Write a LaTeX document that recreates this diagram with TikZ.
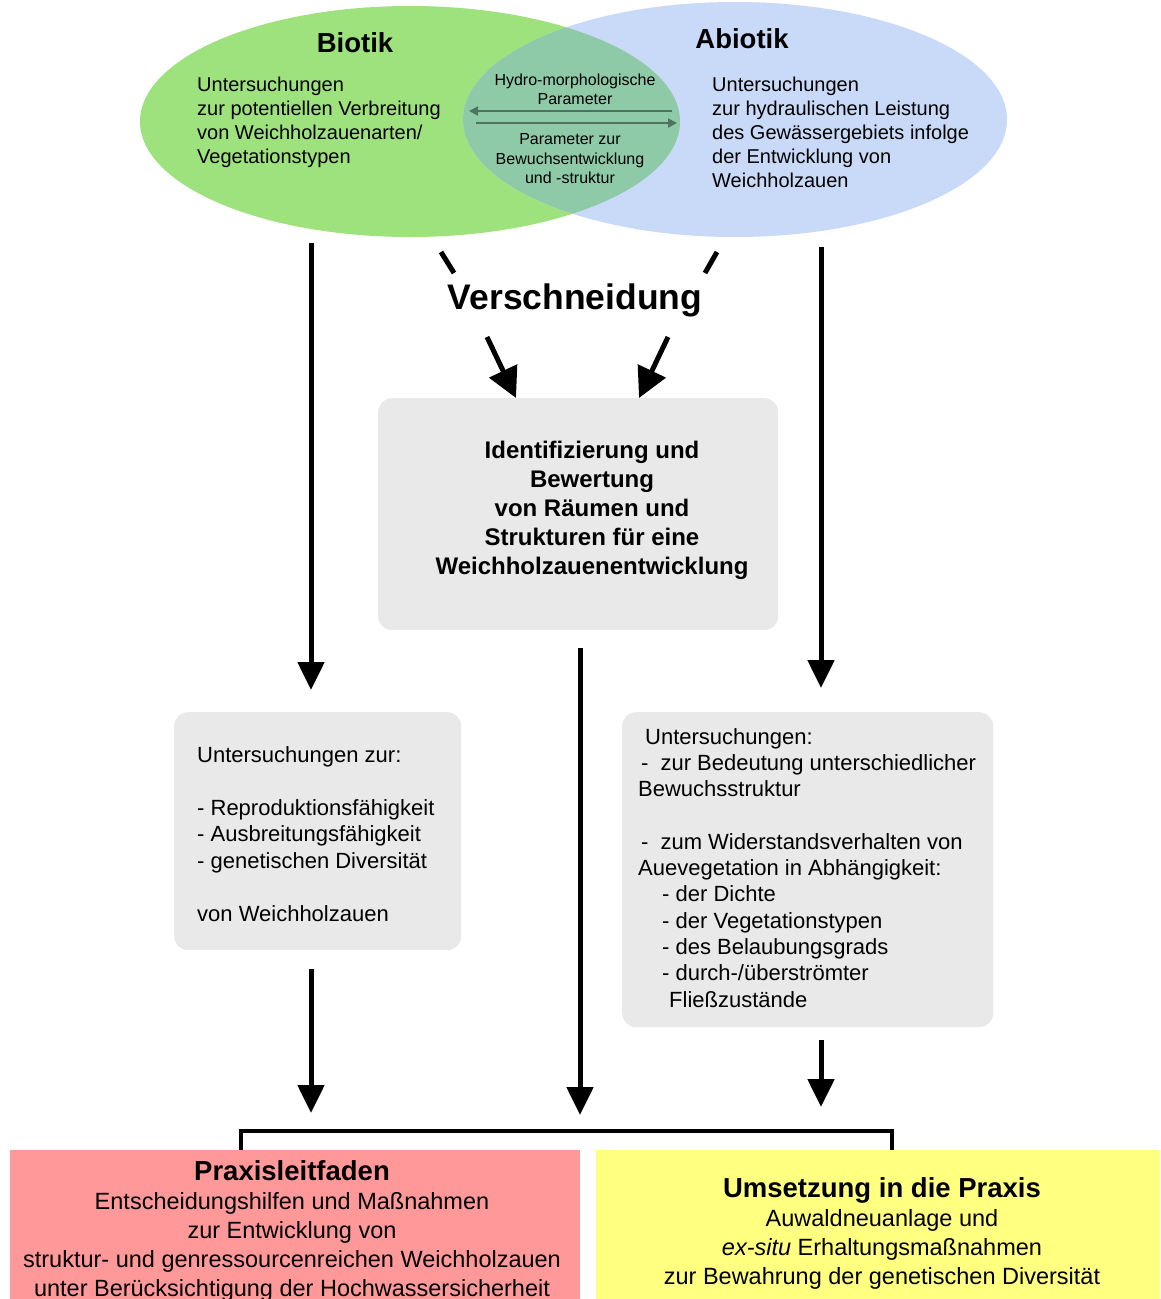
\documentclass[tikz,border=0pt]{standalone}
\usepackage{fontspec}
\setmainfont{Liberation Sans}
\usetikzlibrary{arrows.meta,shapes.geometric}
\definecolor{bgreen}{RGB}{158,226,126}
\definecolor{bblue}{RGB}{201,218,248}
\definecolor{blens}{RGB}{143,202,168}
\definecolor{lensarrow}{RGB}{78,115,96}
\definecolor{boxgrey}{RGB}{233,233,233}
\definecolor{bred}{RGB}{255,153,153}
\definecolor{byellow}{RGB}{255,255,128}
\tikzset{
  bigarrow/.style={line width=5pt,-{Triangle[width=26pt,length=28pt]}},
  diagarrow/.style={line width=5pt,-{Triangle[width=30pt,length=30pt]}},
  lensarr/.style={draw=lensarrow,line width=2pt,-{Triangle[width=9pt,length=9pt]}},
  greybox/.style={fill=boxgrey,rounded corners=14pt,draw=none,anchor=north west,inner sep=0pt},
  txt/.style={inner sep=0pt,text=black},
}
\begin{document}
\begin{tikzpicture}[x=1pt,y=-1pt]
\useasboundingbox (0,0) rectangle (1160,1299);
\fill[white] (0,0) rectangle (1160,1299);
% ellipses
\node[ellipse,fill=bgreen,minimum width=540pt,minimum height=231pt,inner sep=0pt] (green) at (410,121.5) {};
\node[ellipse,fill=bblue,minimum width=544pt,minimum height=235pt,inner sep=0pt] (blue) at (735,119.5) {};
\begin{scope}
  \clip (410,121.5) ellipse [x radius=270,y radius=115.5];
  \fill[blens] (735,119.5) ellipse [x radius=272,y radius=117.5];
\end{scope}
% texts in ellipses
\node[txt,font=\bfseries\fontsize{27.5}{30}\selectfont] (biotik) at (355,43) {Biotik};
\node[txt,font=\bfseries\fontsize{27.5}{30}\selectfont] (abiotik) at (742,39) {Abiotik};
\node[txt,anchor=north west,align=left,font=\fontsize{20}{24}\selectfont] (btext) at (197,77)
  {Untersuchungen\\zur potentiellen Verbreitung\\von Weichholzauenarten/\\Vegetationstypen};
\node[txt,anchor=north west,align=left,font=\fontsize{20}{24}\selectfont] (atext) at (712,77)
  {Untersuchungen\\zur hydraulischen Leistung\\des Gewässergebiets infolge\\der Entwicklung von\\Weichholzauen};
\node[txt,anchor=north,align=center,font=\fontsize{16}{19}\selectfont] (lens1) at (575,74)
  {Hydro-morphologische\\Parameter};
\node[txt,anchor=north,align=center,font=\fontsize{16}{19.5}\selectfont] (lens2) at (570,133.5)
  {Parameter zur\\Bewuchsentwicklung\\und -struktur};
\coordinate (la1) at (672,111);
\coordinate (la2) at (469,111);
\coordinate (lb1) at (476,123);
\coordinate (lb2) at (677,123);
\draw[lensarr] (la1) -- (la2);
\draw[lensarr] (lb1) -- (lb2);
% Verschneidung
\node[txt,font=\bfseries\fontsize{35.5}{40}\selectfont] (versch) at (575,300) {Verschneidung};
\coordinate (d1a) at (441,252); \coordinate (d1b) at (454,273);
\coordinate (d2a) at (717,252); \coordinate (d2b) at (705,273);
\draw[line width=5pt] (d1a) -- (d1b);
\draw[line width=5pt] (d2a) -- (d2b);
% middle box
\node[greybox,minimum width=400pt,minimum height=232pt] (mid) at (378,398) {};
\node[txt,anchor=north,align=center,font=\bfseries\fontsize{24}{29}\selectfont] (midtext) at (592,441)
  {Identifizierung und\\Bewertung\\von Räumen und\\Strukturen für eine\\Weichholzauenentwicklung};
\coordinate (v1) at (487,337);
\coordinate (v2) at (668,337);
\draw[diagarrow] (v1) -- (mid.north west -| 516,0 |- 0,387);
\draw[diagarrow] (v2) -- (mid.north west -| 639,0 |- 0,387);
% left and right boxes
\node[greybox,minimum width=287pt,minimum height=238pt] (lbox) at (174,712) {};
\node[txt,anchor=north west,align=left,font=\fontsize{22}{26.5}\selectfont] (ltext) at (197,746)
  {Untersuchungen zur:\\\mbox{}\\- Reproduktionsfähigkeit\\- Ausbreitungsfähigkeit\\- genetischen Diversität\\\mbox{}\\von Weichholzauen};
\node[greybox,minimum width=371pt,minimum height=315pt] (rbox) at (622,712) {};
\node[txt,anchor=north west,align=left,font=\fontsize{22}{26.3}\selectfont] (rtext) at (638,728)
  {\hspace*{7pt}Untersuchungen:\\
   \hspace*{3pt}-\hspace*{12pt}zur Bedeutung unterschiedlicher\\
   Bewuchsstruktur\\
   \mbox{}\\
   \hspace*{3pt}-\hspace*{12pt}zum Widerstandsverhalten von\\
   Auevegetation in Abhängigkeit:\\
   \hspace*{24pt}- der Dichte\\
   \hspace*{24pt}- der Vegetationstypen\\
   \hspace*{24pt}- des Belaubungsgrads\\
   \hspace*{24pt}- durch-/überströmter\\
   \hspace*{31pt}Fließzustände};
% long arrows
\coordinate (g1) at (311,243); \coordinate (g2) at (311,690);
\coordinate (b1) at (821,247); \coordinate (b2) at (821,688);
\coordinate (m1) at (580,648); \coordinate (m2) at (580,1115);
\coordinate (l1) at (311,969); \coordinate (l2) at (311,1113);
\coordinate (r1) at (821,1040); \coordinate (r2) at (821,1107);
\draw[bigarrow] (g1) -- (g2);
\draw[bigarrow] (b1) -- (b2);
\draw[bigarrow] (m1) -- (m2);
\draw[bigarrow] (l1) -- (l2);
\draw[bigarrow] (r1) -- (r2);
% bottom boxes
\node[fill=bred,anchor=north west,inner sep=0pt,minimum width=570pt,minimum height=150pt] (red) at (10,1150) {};
\node[fill=byellow,anchor=north west,inner sep=0pt,minimum width=564pt,minimum height=150pt] (yellow) at (596,1150) {};
\draw[line width=4pt] (red.north -| 241,0) -- (241,1131) -- (892,1131) -- (yellow.north -| 892,0);
\node[txt,anchor=north,align=center,font=\fontsize{23.5}{29}\selectfont] (redtext) at (292,1160)
  {{\bfseries\fontsize{27.5}{29}\selectfont Praxisleitfaden}\\
   Entscheidungshilfen und Maßnahmen\\
   zur Entwicklung von\\
   struktur- und genressourcenreichen Weichholzauen\\
   unter Berücksichtigung der Hochwassersicherheit};
\node[txt,anchor=north,align=center,font=\fontsize{23.5}{29}\selectfont] (yeltext) at (882,1177)
  {{\bfseries\fontsize{27.5}{29}\selectfont Umsetzung in die Praxis}\\
   Auwaldneuanlage und\\
   \textit{ex-situ} Erhaltungsmaßnahmen\\
   zur Bewahrung der genetischen Diversität};
\end{tikzpicture}
\end{document}
